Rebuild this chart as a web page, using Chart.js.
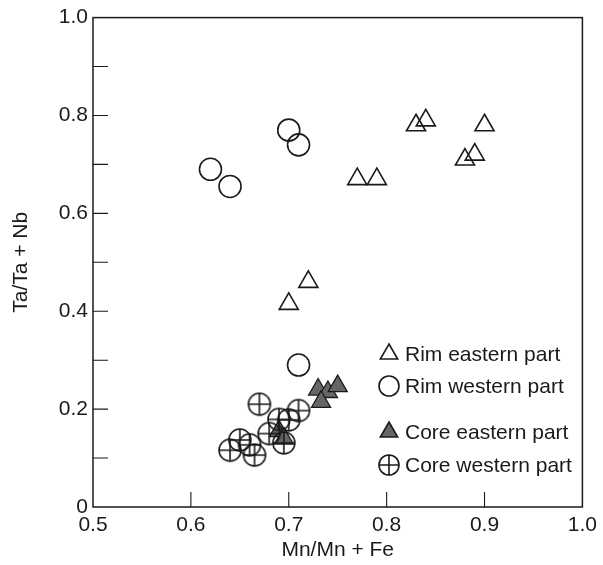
<!DOCTYPE html>
<html>
<head>
<meta charset="utf-8">
<script src="https://cdn.jsdelivr.net/npm/chart.js@4"></script>
<style>
  html, body { margin: 0; padding: 0; background: #fff; }
  #wrap { width: 603px; height: 565px; }
</style>
</head>
<body>
<div id="wrap"><canvas id="myChart" width="603" height="565"></canvas></div>
<script>
/* Data */
const rimEastX = [0.83, 0.84, 0.90, 0.88, 0.89, 0.77, 0.79, 0.72, 0.70];
const rimEastY = [0.78, 0.79, 0.78, 0.71, 0.72, 0.67, 0.67, 0.46, 0.415];

const rimWestX = [0.62, 0.64, 0.70, 0.71, 0.71];
const rimWestY = [0.69, 0.655, 0.77, 0.74, 0.29];

const coreEastX = [0.73, 0.74, 0.75, 0.733, 0.69, 0.695];
const coreEastY = [0.24, 0.235, 0.247, 0.215, 0.155, 0.14];

const coreWestX = [0.67, 0.71, 0.70, 0.69, 0.68, 0.695, 0.65, 0.66, 0.64, 0.665];
const coreWestY = [0.21, 0.197, 0.178, 0.179, 0.15, 0.131, 0.137, 0.127, 0.116, 0.106];

const xTicks = [0.5, 0.6, 0.7, 0.8, 0.9, 1.0];
const yTicks = [0, 0.2, 0.4, 0.6, 0.8, 1.0];

const ink = '#1a1a1a';
const fontFamily = '"Liberation Sans", Arial, Helvetica, sans-serif';
const fontSize = 21;
const stroke = 1.6;

function toPoints(xs, ys) {
  return xs.map((x, i) => ({x: x, y: ys[i]}));
}

/* circle with a cross through it */
function crossCircle(r) {
  const size = 2 * r + 4;
  const c = document.createElement('canvas');
  c.width = size;
  c.height = size;
  const g = c.getContext('2d');
  const m = size / 2;
  g.strokeStyle = ink;
  g.lineWidth = stroke;
  g.beginPath();
  g.arc(m, m, r, 0, Math.PI * 2);
  g.moveTo(m - r, m);
  g.lineTo(m + r, m);
  g.moveTo(m, m - r);
  g.lineTo(m, m + r);
  g.stroke();
  return c;
}
const crossMark = crossCircle(11);
const crossMarkSmall = crossCircle(10);

/* Frame and inward ticks */
const frame = {
  id: 'frame',
  afterDatasetsDraw(chart) {
    const {ctx, chartArea: a, scales} = chart;
    ctx.save();
    ctx.strokeStyle = ink;
    ctx.lineWidth = 1.5;
    ctx.strokeRect(a.left, a.top, a.right - a.left, a.bottom - a.top);
    ctx.beginPath();
    for (let i = 1; i < 10; i++) {
      const y = scales.y.getPixelForValue(i / 10);
      ctx.moveTo(a.left, y);
      ctx.lineTo(a.left + 15, y);
    }
    for (const v of xTicks.slice(1, -1)) {
      const x = scales.x.getPixelForValue(v);
      ctx.moveTo(x, a.bottom);
      ctx.lineTo(x, a.bottom - 15);
    }
    ctx.lineWidth = 1.1;
    ctx.stroke();
    ctx.restore();
  }
};

/* Legend in the lower right corner */
const keyBox = {
  id: 'keyBox',
  afterDraw(chart) {
    const {ctx} = chart;
    const rows = [
      {y: 354, label: 'Rim eastern part', style: 'triangle', fill: 'rgba(0,0,0,0)'},
      {y: 386, label: 'Rim western part', style: 'circle', fill: 'rgba(0,0,0,0)'},
      {y: 432, label: 'Core eastern part', style: 'triangle', fill: '#666'},
      {y: 465, label: 'Core western part', style: crossMarkSmall, fill: 'rgba(0,0,0,0)'}
    ];
    ctx.save();
    for (const row of rows) {
      ctx.fillStyle = row.fill;
      ctx.strokeStyle = ink;
      ctx.lineWidth = stroke;
      Chart.helpers.drawPoint(ctx, {pointStyle: row.style, radius: 10, rotation: 0, borderWidth: stroke}, 389, row.y);
      ctx.fillStyle = ink;
      ctx.font = fontSize + 'px ' + fontFamily;
      ctx.textBaseline = 'middle';
      ctx.textAlign = 'left';
      ctx.fillText(row.label, 405, row.y + 1);
    }
    ctx.restore();
  }
};

function initChart() {
  const ctx = document.getElementById('myChart').getContext('2d');

  // eslint-disable-next-line no-undef
  const myChart = new Chart(ctx, {
    type: 'scatter',
    data: {
      datasets: [{
        label: 'Rim eastern part',
        data: toPoints(rimEastX, rimEastY),
        pointStyle: 'triangle',
        pointRadius: 11,
        borderColor: ink,
        borderWidth: stroke,
        backgroundColor: 'rgba(0,0,0,0)',
        order: 3
      },
      {
        label: 'Rim western part',
        data: toPoints(rimWestX, rimWestY),
        pointStyle: 'circle',
        pointRadius: 11,
        borderColor: ink,
        borderWidth: stroke,
        backgroundColor: 'rgba(0,0,0,0)',
        order: 2
      },
      {
        label: 'Core eastern part',
        data: toPoints(coreEastX, coreEastY),
        pointStyle: 'triangle',
        pointRadius: 11,
        borderColor: ink,
        borderWidth: 1.3,
        backgroundColor: '#666',
        order: 1
      },
      {
        label: 'Core western part',
        data: toPoints(coreWestX, coreWestY),
        pointStyle: crossMark,
        pointRadius: 11,
        order: 0
      }]
    },
    options: {
      responsive: false,
      animation: false,
      events: [],
      layout: {padding: {top: 17, right: 17, left: 0, bottom: 0}},
      plugins: {
        legend: {display: false},
        tooltip: {enabled: false}
      },
      scales: {
        x: {
          type: 'linear',
          min: 0.5,
          max: 1.0,
          afterBuildTicks: (scale) => { scale.ticks = xTicks.map(v => ({value: v})); },
          afterFit: (scale) => { scale.height = 58; },
          grid: {display: false, drawTicks: false},
          border: {display: false},
          ticks: {
            padding: 6,
            color: ink,
            font: {family: fontFamily, size: fontSize},
            maxRotation: 0,
            callback: (v) => v.toFixed(1)
          },
          title: {
            display: true,
            text: 'Mn/Mn + Fe',
            color: ink,
            font: {family: fontFamily, size: fontSize},
            padding: {top: 0, bottom: 2}
          }
        },
        y: {
          type: 'linear',
          min: 0,
          max: 1.0,
          afterBuildTicks: (scale) => { scale.ticks = yTicks.map(v => ({value: v})); },
          afterFit: (scale) => { scale.width = 93; },
          grid: {display: false, drawTicks: false},
          border: {display: false},
          ticks: {
            padding: 5,
            color: ink,
            font: {family: fontFamily, size: fontSize},
            callback: (v) => v === 0 ? '0' : v.toFixed(1)
          },
          title: {
            display: true,
            text: 'Ta/Ta + Nb',
            color: ink,
            font: {family: fontFamily, size: fontSize},
            padding: {top: 9, bottom: 0}
          }
        }
      }
    },
    plugins: [frame, keyBox]
  });
}

initChart();
</script>
</body>
</html>
